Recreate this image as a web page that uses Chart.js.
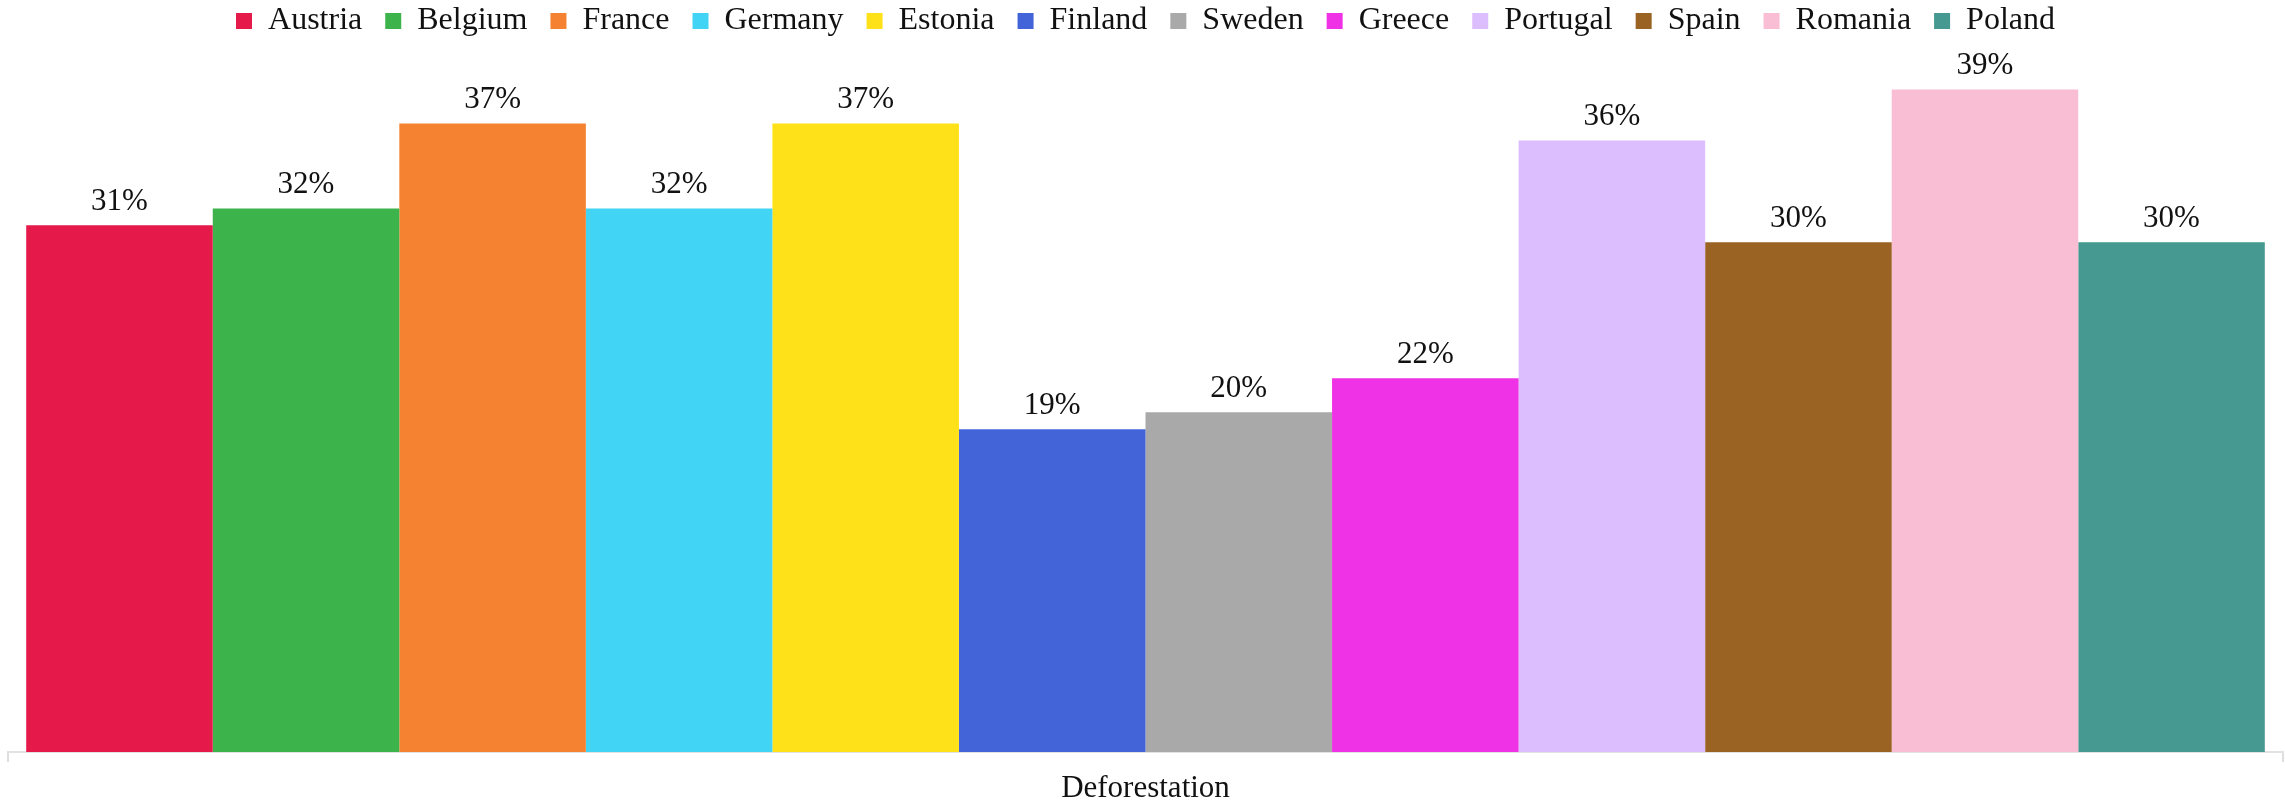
<!DOCTYPE html>
<html>
<head>
<meta charset="utf-8">
<title>Deforestation</title>
<script src="https://cdn.jsdelivr.net/npm/chart.js@4/dist/chart.umd.min.js"></script>
<style>
    html, body {
        margin: 0;
        padding: 0;
        background: #fff;
    }
    .chart-box {
        width: 2285px;
        height: 802px;
    }
</style>
</head>
<body>
<div class="chart-box">
    <canvas id="forestChart"></canvas>
</div>
<script>
const categories = ['Deforestation'];
const countries = ['Austria', 'Belgium', 'France', 'Germany', 'Estonia', 'Finland',
    'Sweden', 'Greece', 'Portugal', 'Spain', 'Romania', 'Poland'];
const shares = [31, 32, 37, 32, 37, 19, 20, 22, 36, 30, 39, 30];
const colors = ['#e6194b', '#3cb44b', '#f58231', '#42d4f4', '#ffe119', '#4363d8',
    '#a9a9a9', '#f032e6', '#dcbeff', '#9a6324', '#fabed4', '#469990'];

const serif = '"Liberation Serif", "DejaVu Serif", serif';

// writes "NN%" above each bar
const valueLabels = {
    id: 'valueLabels',
    afterDatasetsDraw(chart) {
        const ctx = chart.ctx;
        ctx.save();
        ctx.font = `31px ${serif}`;
        ctx.fillStyle = '#111';
        ctx.textAlign = 'center';
        ctx.textBaseline = 'alphabetic';
        chart.data.datasets.forEach((ds, i) => {
            const meta = chart.getDatasetMeta(i);
            meta.data.forEach((bar, j) => {
                ctx.fillText(ds.data[j] + '%', bar.x, bar.y - 15);
            });
        });
        ctx.restore();
    }
};

const datasets = countries.map((name, i) => ({
    label: name,
    data: [shares[i]],
    backgroundColor: colors[i],
    borderWidth: 0
}));

new Chart(document.getElementById('forestChart').getContext('2d'), {
    type: 'bar',
    data: {
        labels: categories,
        datasets: datasets
    },
    options: {
        responsive: true,
        maintainAspectRatio: false,
        animation: false,
        devicePixelRatio: 1,
        categoryPercentage: 0.984,
        barPercentage: 1,
        layout: {
            padding: { top: -18, left: 8, right: 2, bottom: 0 }
        },
        plugins: {
            legend: {
                position: 'top',
                labels: {
                    boxWidth: 16,
                    boxHeight: 16,
                    padding: 23,
                    color: '#111',
                    font: { family: serif, size: 32 }
                }
            },
            tooltip: { enabled: false }
        },
        scales: {
            x: {
                // keep the axis strip short so the category name sits low
                afterFit(scale) {
                    scale.height = 50;
                },
                grid: {
                    drawOnChartArea: false,
                    tickLength: 10,
                    color: '#dedede',
                    lineWidth: 2
                },
                border: { color: '#e2e2e2', width: 2 },
                ticks: {
                    color: '#111',
                    padding: 8,
                    font: { family: serif, size: 31 }
                }
            },
            y: {
                display: false,
                min: 0,
                max: 41.5
            }
        }
    },
    plugins: [valueLabels]
});
</script>
</body>
</html>
